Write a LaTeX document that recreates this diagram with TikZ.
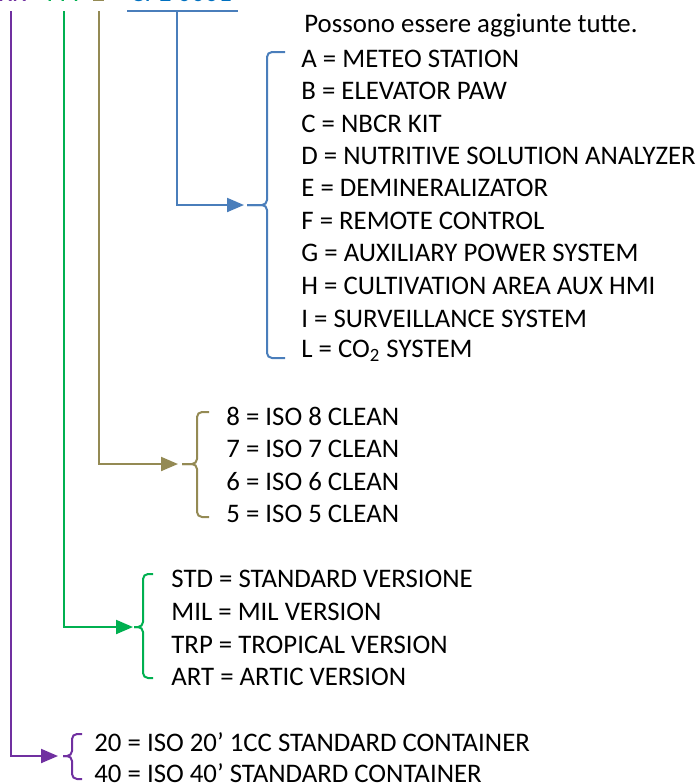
\documentclass[tikz,border=0pt]{standalone}
\usepackage{fontspec}
\setmainfont{Carlito}
\usetikzlibrary{arrows.meta,positioning}
\definecolor{verpurple}{HTML}{7030A0}
\definecolor{vergreen}{HTML}{00B050}
\definecolor{verolive}{HTML}{948A54}
\definecolor{verblue}{HTML}{4A7EBB}
\definecolor{headblue}{HTML}{0070C0}
\tikzset{
  link/.style     = {line width=1pt, -{Triangle[length=8.5pt,width=7pt]}},
  plainlink/.style= {line width=1pt},
  bracket/.style  = {line width=1pt, rounded corners=2.5pt},
  item/.style     = {anchor=west, inner sep=0pt, font=\fontsize{13.4}{15}\selectfont},
  head/.style     = {anchor=base west, inner sep=0pt, font=\fontsize{13.4}{15}\selectfont},
}

\begin{document}
\begin{tikzpicture}[x=0.5pt,y=-0.5pt]
  \useasboundingbox (0,0) rectangle (699,784);
  \clip (0,0) rectangle (699,784);

  % ---------------- code heading (cut at the top) ------------------------
  \node[head,text=verpurple] (hdCont)  at (-2,1) {KK-};
  \node[head,text=vergreen]  (hdVers)  at (43,1) {YYY-};
  \node[head,text=verolive]  (hdClean) at (92,1) {Z};
  \node[head,text=headblue]  (hdOpt)   at (130,1) {CPE 0001};

  % ---------------- junction points --------------------------------------
  \coordinate (contTop)  at (11,11);
  \coordinate (contBend) at (11,756);
  \coordinate (contTip)  at (58,756);
  \coordinate (versTop)  at (64,11);
  \coordinate (versBend) at (64,627);
  \coordinate (versTip)  at (133,627);
  \coordinate (cleanTop) at (99,11);
  \coordinate (cleanBend)at (99,464);
  \coordinate (cleanTip) at (178,464);
  \coordinate (optLeft)  at (127,11);
  \coordinate (optRight) at (238,11);
  \coordinate (optTop)   at (177,11);
  \coordinate (optBend)  at (177,205);
  \coordinate (optTip)   at (244,205);

  % ---------------- options (blue) ---------------------------------------
  \node[item] (optNote) at (304,26)  {Possono essere aggiunte tutte.};
  \node[item] (optA) at (301,59)  {A = METEO STATION};
  \node[item] (optB) at (301,91)  {B = ELEVATOR PAW};
  \node[item] (optC) at (301,124) {C = NBCR KIT};
  \node[item] (optD) at (301,156) {D = NUTRITIVE SOLUTION ANALYZER};
  \node[item] (optE) at (301,188) {E = DEMINERALIZATOR};
  \node[item] (optF) at (301,221) {F = REMOTE CONTROL};
  \node[item] (optG) at (301,253) {G = AUXILIARY POWER SYSTEM};
  \node[item] (optH) at (301,286) {H = CULTIVATION AREA AUX HMI};
  \node[item] (optI) at (301,319) {I = SURVEILLANCE SYSTEM};
  \node[item] (optL) at (301,351) {L = CO\textsubscript{2} SYSTEM};

  \draw[plainlink,verblue] (optLeft) -- (optRight);
  \draw[link,verblue] (optTop) -- (optBend) -- (optTip);
  \draw[bracket,verblue] (285,52) -- (267,52) -- (267,205) -- (247,205);
  \draw[bracket,verblue] (247,205) -- (267,205) -- (267,358) -- (285,358);

  % ---------------- clean classes (olive) --------------------------------
  \node[item] (iso8) at (226,416) {8 = ISO 8 CLEAN};
  \node[item] (iso7) at (226,449) {7 = ISO 7 CLEAN};
  \node[item] (iso6) at (226,482) {6 = ISO 6 CLEAN};
  \node[item] (iso5) at (226,514) {5 = ISO 5 CLEAN};

  \draw[link,verolive] (cleanTop) -- (cleanBend) -- (cleanTip);
  \draw[bracket,verolive] (209,412) -- (197,412) -- (197,464) -- (182,464);
  \draw[bracket,verolive] (182,464) -- (197,464) -- (197,517) -- (209,517);

  % ---------------- versions (green) -------------------------------------
  \node[item] (verStd) at (171,579) {STD = STANDARD VERSIONE};
  \node[item] (verMil) at (171,612) {MIL = MIL VERSION};
  \node[item] (verTrp) at (171,645) {TRP = TROPICAL VERSION};
  \node[item] (verArt) at (171,677) {ART = ARTIC VERSION};

  \draw[link,vergreen] (versTop) -- (versBend) -- (versTip);
  \draw[bracket,vergreen] (153,574) -- (143,574) -- (143,627) -- (134,627);
  \draw[bracket,vergreen] (134,627) -- (143,627) -- (143,678) -- (153,678);

  % ---------------- containers (purple) ----------------------------------
  \node[item] (cont20) at (94,742) {20 = ISO 20’ 1CC STANDARD CONTAINER};
  \node[item] (cont40) at (94,773) {40 = ISO 40’ STANDARD CONTAINER};

  \draw[link,verpurple] (contTop) -- (contBend) -- (contTip);
  \draw[bracket,verpurple] (82,734) -- (72,734) -- (72,756) -- (63,756);
  \draw[bracket,verpurple] (63,756) -- (72,756) -- (72,779) -- (82,779);
\end{tikzpicture}
\end{document}
